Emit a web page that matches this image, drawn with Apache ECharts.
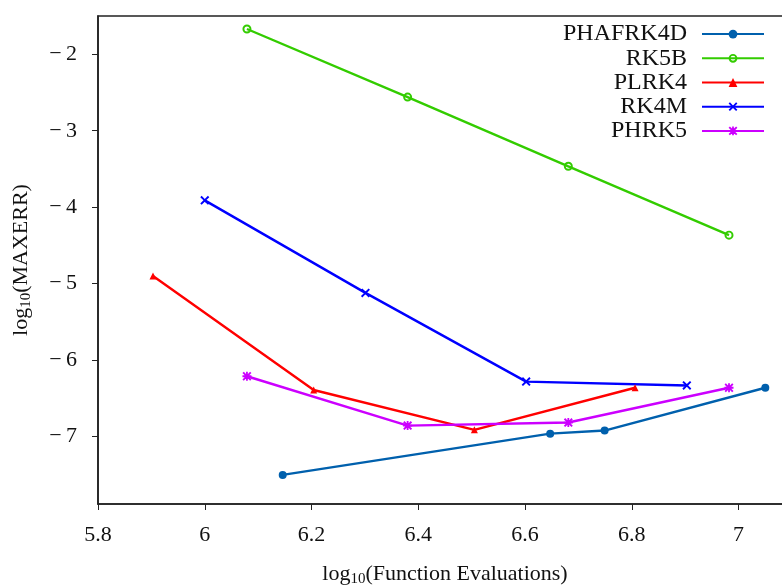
<!DOCTYPE html>
<html>
<head>
<meta charset="utf-8">
<script src="https://cdn.jsdelivr.net/npm/echarts@6/dist/echarts.min.js"></script>
<style>
  html, body { margin: 0; padding: 0; background: #fff; }
  #chart { width: 782px; height: 585px; }
</style>
</head>
<body>
<div id="chart"></div>
<script>
const seriesNames = ['PHAFRK4D', 'RK5B', 'PLRK4', 'RK4M', 'PHRK5'];

const phafrk4dX = [6.146, 6.647, 6.749, 7.05];
const phafrk4dY = [-7.50, -6.96, -6.92, -6.36];

const rk5bX = [6.079, 6.380, 6.681, 6.982];
const rk5bY = [-1.67, -2.56, -3.465, -4.365];

const plrk4X = [5.903, 6.204, 6.505, 6.806];
const plrk4Y = [-4.90, -6.39, -6.91, -6.36];

const rk4mX = [6.0, 6.301, 6.602, 6.903];
const rk4mY = [-3.91, -5.12, -6.28, -6.33];

const phrk5X = [6.079, 6.380, 6.681, 6.982];
const phrk5Y = [-6.21, -6.855, -6.815, -6.36];

const xTicks = [5.8, 6, 6.2, 6.4, 6.6, 6.8, 7];
const yTicks = [-7, -6, -5, -4, -3, -2];

const FONT = '"Liberation Serif", "DejaVu Serif", serif';

// marker shapes
const RING = 'path://M0,5 A5,5 0 1,1 10,5 A5,5 0 1,1 0,5 Z M2.2,5 A2.8,2.8 0 1,0 7.8,5 A2.8,2.8 0 1,0 2.2,5 Z';
const CROSS = 'path://M0,1.5 L1.5,0 L5,3.5 L8.5,0 L10,1.5 L6.5,5 L10,8.5 L8.5,10 L5,6.5 L1.5,10 L0,8.5 L3.5,5 Z';
const STAR = 'path://M0,1.5 L1.5,0 L5,3.5 L8.5,0 L10,1.5 L6.5,5 L10,8.5 L8.5,10 L5,6.5 L1.5,10 L0,8.5 L3.5,5 Z ' +
  'M4,0 L6,0 L6,4 L10,4 L10,6 L6,6 L6,10 L4,10 L4,6 L0,6 L0,4 L4,4 Z';

const zip = (xs, ys) => xs.map((x, i) => [x, ys[i]]);

const mkSeries = (name, xs, ys, color, symbol, size) => ({
  name,
  type: 'line',
  data: zip(xs, ys),
  symbol,
  symbolSize: size,
  showAllSymbol: true,
  lineStyle: { color, width: 2.4 },
  itemStyle: { color, borderWidth: 0 },
  emphasis: { disabled: true },
  animation: false
});

const chart = echarts.init(document.getElementById('chart'));

const option = {
  backgroundColor: '#fff',
  animation: false,
  grid: {
    left: 98, top: 16, right: -10, bottom: 81,
    outerBoundsMode: 'none',
    containLabel: false,
    show: true, borderColor: '#222', borderWidth: 1.6
  },
  legend: {
    orient: 'vertical',
    right: 12,
    top: 17,
    align: 'right',
    itemWidth: 62,
    itemHeight: 11,
    itemGap: 0,
    data: seriesNames,
    textStyle: {
      fontFamily: FONT, fontSize: 24, color: '#111',
      lineHeight: 24.2, padding: [0, 10, 0, 0]
    }
  },
  xAxis: {
    type: 'value',
    min: 5.8,
    max: 7.1,
    name: 'log{sub|10}(Function Evaluations)',
    nameLocation: 'middle',
    nameGap: 58,
    nameTextStyle: {
      fontFamily: FONT, fontSize: 22, color: '#111',
      rich: { sub: { fontFamily: FONT, fontSize: 15, color: '#111', padding: [10, 0, 0, 0] } }
    },
    splitLine: { show: false },
    axisLine: { onZero: false, lineStyle: { color: '#222', width: 1.6 } },
    axisTick: { length: 6, customValues: xTicks, lineStyle: { color: '#222', width: 1 } },
    axisLabel: {
      customValues: xTicks,
      margin: 20,
      fontFamily: FONT, fontSize: 22, color: '#111',
      formatter: v => String(+v.toFixed(1))
    }
  },
  yAxis: {
    type: 'value',
    min: -7.88,
    max: -1.5,
    name: 'log{sub|10}(MAXERR)',
    nameLocation: 'middle',
    nameGap: 64,
    nameTextStyle: {
      fontFamily: FONT, fontSize: 22, color: '#111',
      rich: { sub: { fontFamily: FONT, fontSize: 15, color: '#111', padding: [10, 0, 0, 0] } }
    },
    splitLine: { show: false },
    axisLine: { onZero: false, lineStyle: { color: '#222', width: 1.6 } },
    axisTick: { length: 6, customValues: yTicks, lineStyle: { color: '#222', width: 1 } },
    axisLabel: {
      customValues: yTicks,
      margin: 21,
      fontFamily: FONT, fontSize: 22, color: '#111',
      formatter: v => (v < 0 ? '\u2212\u2009' : '') + Math.abs(v)
    }
  },
  series: [
    mkSeries('PHAFRK4D', phafrk4dX, phafrk4dY, '#0060ad', 'circle', 8),
    mkSeries('RK5B', rk5bX, rk5bY, '#33cc00', RING, 9),
    mkSeries('PLRK4', plrk4X, plrk4Y, '#ff0000', 'triangle', 7),
    mkSeries('RK4M', rk4mX, rk4mY, '#0000ff', CROSS, 9),
    mkSeries('PHRK5', phrk5X, phrk5Y, '#cc00ff', STAR, 9)
  ]
};

chart.setOption(option);
</script>
</body>
</html>
